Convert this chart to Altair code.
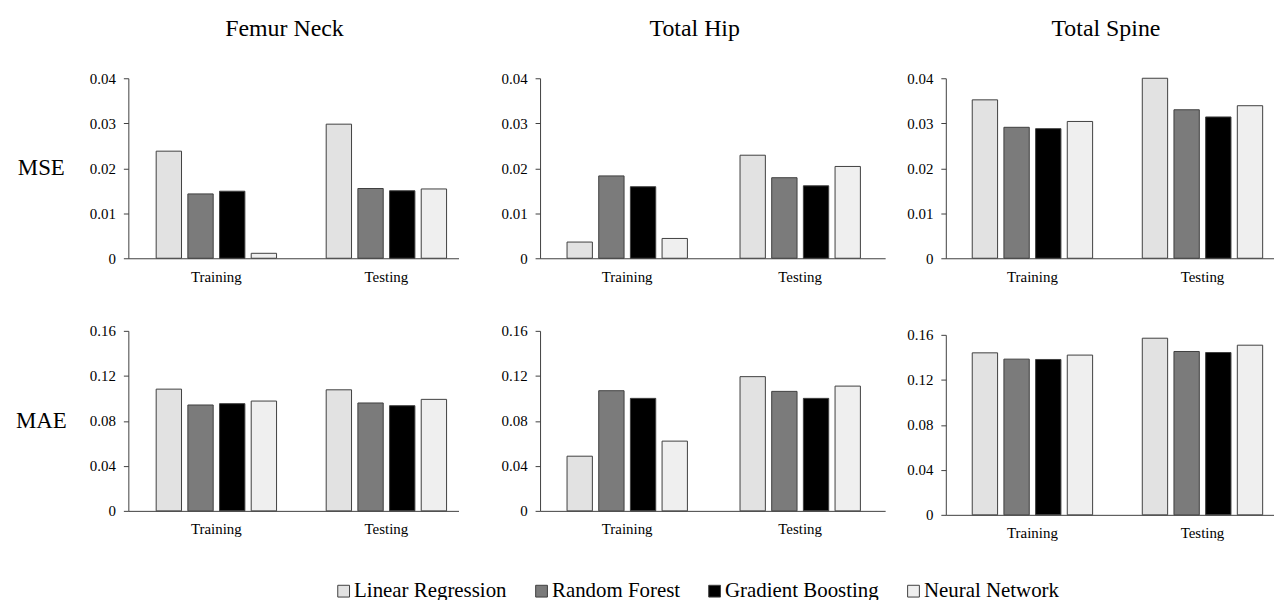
import altair as alt
import pandas as pd

sites = ["Femur Neck", "Total Hip", "Total Spine"]
metrics = ["MSE", "MAE"]
phases = ["Training", "Testing"]
models = ["Linear Regression", "Random Forest", "Gradient Boosting", "Neural Network"]
colors = ["#e2e2e2", "#7b7b7b", "#000000", "#efefef"]

# [Linear Regression, Random Forest, Gradient Boosting, Neural Network]
fn_mse_train = [0.0238, 0.0143, 0.0149, 0.0011]
fn_mse_test = [0.0298, 0.0155, 0.0150, 0.0154]
th_mse_train = [0.0036, 0.0183, 0.0159, 0.0044]
th_mse_test = [0.0229, 0.0179, 0.0161, 0.0204]
ts_mse_train = [0.0352, 0.0291, 0.0288, 0.0304]
ts_mse_test = [0.0400, 0.0330, 0.0314, 0.0339]

fn_mae_train = [0.1082, 0.0941, 0.0953, 0.0976]
fn_mae_test = [0.1076, 0.0959, 0.0935, 0.0991]
th_mae_train = [0.0486, 0.1068, 0.1000, 0.0620]
th_mae_test = [0.1193, 0.1062, 0.1000, 0.1109]
ts_mae_train = [0.1440, 0.1384, 0.1381, 0.1420]
ts_mae_test = [0.1570, 0.1452, 0.1443, 0.1508]

mse_ticks = [0, 0.01, 0.02, 0.03, 0.04]
mae_ticks = [0, 0.04, 0.08, 0.12, 0.16]

series = {
    ("Femur Neck", "MSE"): (fn_mse_train, fn_mse_test),
    ("Total Hip", "MSE"): (th_mse_train, th_mse_test),
    ("Total Spine", "MSE"): (ts_mse_train, ts_mse_test),
    ("Femur Neck", "MAE"): (fn_mae_train, fn_mae_test),
    ("Total Hip", "MAE"): (th_mae_train, th_mae_test),
    ("Total Spine", "MAE"): (ts_mae_train, ts_mae_test),
}

rows = []
for (site, metric), (tr, te) in series.items():
    for phase, vals in zip(phases, (tr, te)):
        for m, v in zip(models, vals):
            rows.append({"site": site, "metric": metric, "phase": phase, "model": m, "value": v})
df = pd.DataFrame(rows)

FONT = "Liberation Serif"
AX = "#404040"
widths = {"Femur Neck": 332, "Total Hip": 347, "Total Spine": 330}
# band layout per panel: (paddingInner, paddingOuter, align)
bands = {"Femur Neck": (0.292, 0.117, 0.70),
         "Total Hip": (0.305, 0.150, 0.52),
         "Total Spine": (0.292, 0.111, 0.70)}
title_dx = {"Femur Neck": -9, "Total Hip": -18, "Total Spine": -4}


def panel(site, metric, first_col, top_row, with_legend):
    d = df[(df.site == site) & (df.metric == metric)]
    ticks = mse_ticks if metric == "MSE" else mae_ticks
    pi, po, al = bands[site]
    yaxis_kw = dict(
        values=ticks, format="~g", grid=False, domainColor=AX, tickColor=AX,
        tickSize=5, labelPadding=8, labelFont=FONT, labelFontSize=15, labelColor="black",
        domainWidth=1, tickWidth=1,
    )
    if first_col:
        yaxis_kw.update(
            title=metric, titleAngle=0, titleX=-88, titleY=90, titleAlign="center",
            titleBaseline="middle", titleFont=FONT, titleFontSize=23,
            titleFontWeight="normal", titleColor="black",
        )
    else:
        yaxis_kw.update(title=None)
    if with_legend:
        legend = alt.Legend(
            orient="none", legendX=206, legendY=505, direction="horizontal",
            title=None, symbolType="square", symbolSize=140, symbolStrokeColor=AX,
            symbolStrokeWidth=1, symbolOpacity=1, labelFont=FONT, labelFontSize=21,
            labelColor="black", labelOffset=0, columnPadding=24, columns=4,
            labelLimit=300,
        )
    else:
        legend = None
    ch = alt.Chart(d).mark_bar(stroke=AX, strokeWidth=1).encode(
        x=alt.X("phase:N", sort=phases, title=None,
                scale=alt.Scale(paddingInner=pi, paddingOuter=po, align=al),
                axis=alt.Axis(labelAngle=0, ticks=False, domainColor=AX, domainWidth=1,
                              labelFont=FONT, labelFontSize=15, labelColor="black",
                              labelPadding=11)),
        xOffset=alt.XOffset("model:N", sort=models,
                            scale=alt.Scale(paddingInner=0.2, paddingOuter=0)),
        y=alt.Y("value:Q", scale=alt.Scale(domain=[0, ticks[-1]], nice=False),
                axis=alt.Axis(**yaxis_kw)),
        color=alt.Color("model:N", sort=models,
                        scale=alt.Scale(domain=models, range=colors), legend=legend),
    ).properties(width=widths[site], height=181)
    if top_row:
        ch = ch.properties(title=alt.TitleParams(
            text=site, font=FONT, fontSize=24, fontWeight="normal", color="black",
            frame="group", anchor="middle", offset=30, dx=title_dx[site],
        ))
    return ch


cols = []
for i, site in enumerate(sites):
    top = panel(site, "MSE", i == 0, True, i == 0)
    bot = panel(site, "MAE", i == 0, False, False)
    cols.append(alt.VConcatChart(vconcat=[top, bot], spacing=44 if i == 2 else 40))

inner = alt.HConcatChart(hconcat=[cols[0], cols[1]], spacing=42)
chart = alt.HConcatChart(hconcat=[inner, cols[2]], spacing=21).properties(
    padding={"left": 7, "top": 8, "right": 0, "bottom": 0}
).configure(
    font=FONT,
    view=alt.ViewConfig(strokeWidth=0),
    legend=alt.LegendConfig(labelFont=FONT, labelFontSize=21, labelColor="black"),
)

chart.save("out.html", embed_options={"renderer": "svg", "actions": False})
